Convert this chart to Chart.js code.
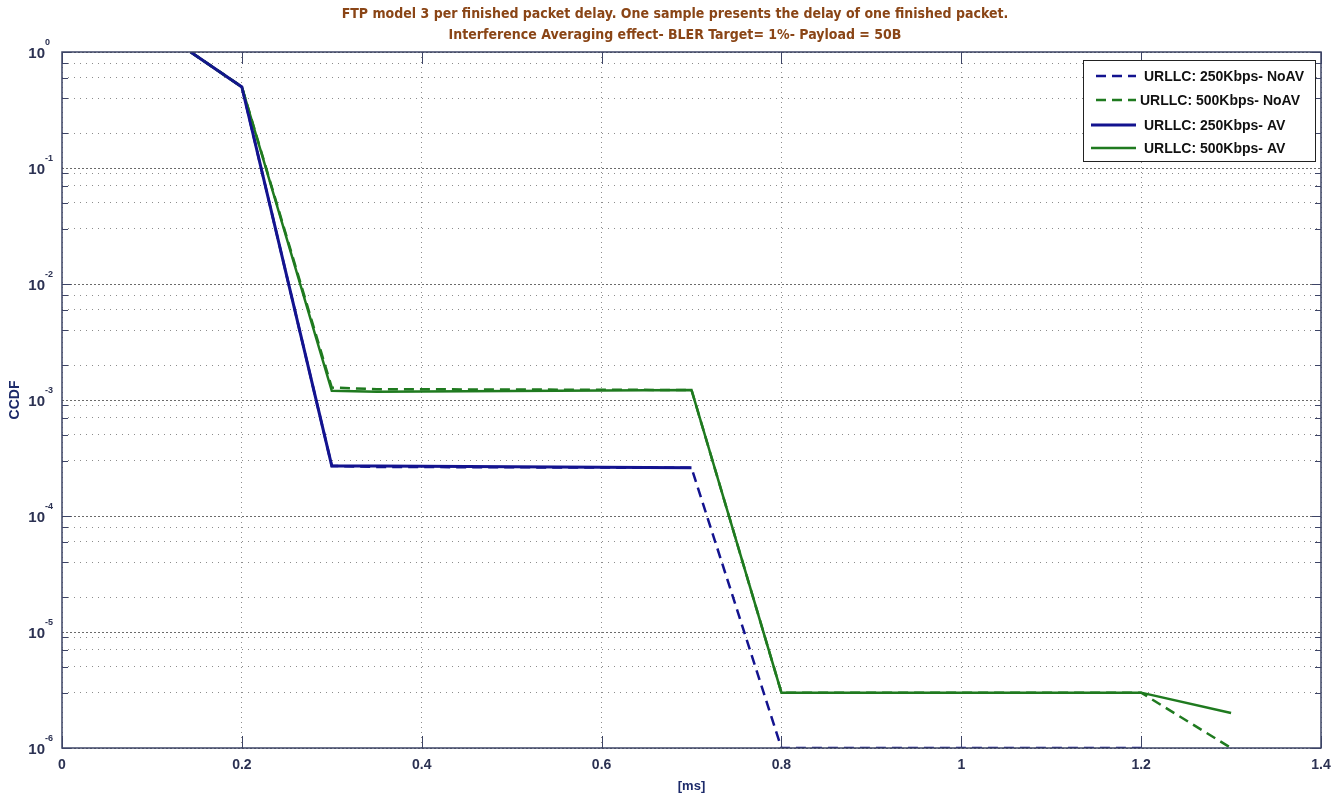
<!DOCTYPE html>
<html>
<head>
<meta charset="utf-8">
<script src="https://cdn.jsdelivr.net/npm/chart.js@4.4.0/dist/chart.umd.min.js"></script>
<style>
  html, body { margin: 0; padding: 0; background: #fff; }
  #wrap { width: 1341px; height: 794px; }
</style>
</head>
<body>
<div id="wrap"><canvas id="ccdfChart"></canvas></div>
<script>
// packet delay [ms] and CCDF per curve
const delayMs = [0.143, 0.2, 0.3, 0.35, 0.7, 0.8, 1.2, 1.3];
const noAv250 = [1, 0.5, 2.7e-4, 2.65e-4, 2.6e-4, 1e-6, 1e-6, null];
const noAv500 = [1, 0.5, 1.28e-3, 1.24e-3, 1.22e-3, 3e-6, 3e-6, 1e-6];
const av250 = [1, 0.5, 2.7e-4, 2.7e-4, 2.6e-4, null, null, null];
const av500 = [1, 0.5, 1.2e-3, 1.18e-3, 1.22e-3, 3e-6, 3e-6, 2e-6];
const seriesNames = ['URLLC: 250Kbps- NoAV', 'URLLC: 500Kbps- NoAV', 'URLLC: 250Kbps- AV', 'URLLC: 500Kbps- AV'];
const yDecades = [0, -1, -2, -3, -4, -5, -6];
const titleLines = ['FTP model 3 per finished packet delay. One sample presents the delay of one finished packet.',
                    'Interference Averaging effect- BLER Target= 1%- Payload = 50B'];

const BLUE = '#13138f';
const GREEN = '#1f7a1f';
const AXIS = '#3d4466';
const LABEL = '#2b3152';
const GRID = '#8c8c8c';
const FONT = '"Liberation Sans", Arial, sans-serif';

const pts = vals => delayMs.map((x, i) => ({x: x, y: vals[i]}));
const isMajor = v => Math.abs(Math.log10(v) - Math.round(Math.log10(v))) < 1e-9;

const frame = {
  id: 'frame',
  beforeDatasetsDraw(chart) {
    // decade grid lines: finer dashes than the minor dotted ones
    const {ctx, chartArea: a, scales: {y}} = chart;
    ctx.save();
    ctx.strokeStyle = '#6a6a6a';
    ctx.lineWidth = 1;
    ctx.setLineDash([2, 2]);
    ctx.beginPath();
    yDecades.forEach(e => {
      const py = Math.round(y.getPixelForValue(Math.pow(10, e))) + 0.5;
      ctx.moveTo(a.left, py); ctx.lineTo(a.right, py);
    });
    ctx.stroke();
    ctx.restore();
  },
  afterDraw(chart) {
    const {ctx, chartArea: a, scales: {x, y}} = chart;
    ctx.save();
    // box
    ctx.strokeStyle = AXIS;
    ctx.lineWidth = 1.5;
    ctx.strokeRect(a.left, a.top, a.right - a.left, a.bottom - a.top);
    // tick marks inside
    ctx.lineWidth = 1;
    ctx.beginPath();
    y.ticks.forEach(t => {
      const py = Math.round(y.getPixelForValue(t.value)) + 0.5;
      const len = isMajor(t.value) ? 9 : 6;
      ctx.moveTo(a.left, py); ctx.lineTo(a.left + len, py);
      ctx.moveTo(a.right, py); ctx.lineTo(a.right - len, py);
    });
    x.ticks.forEach(t => {
      const px = Math.round(x.getPixelForValue(t.value)) + 0.5;
      ctx.moveTo(px, a.top); ctx.lineTo(px, a.top + 12);
      ctx.moveTo(px, a.bottom); ctx.lineTo(px, a.bottom - 12);
    });
    ctx.stroke();

    // y labels 10^n
    ctx.fillStyle = LABEL;
    ctx.textBaseline = 'middle';
    yDecades.forEach(e => {
      const py = y.getPixelForValue(Math.pow(10, e));
      ctx.font = 'bold 15px ' + FONT;
      ctx.textAlign = 'right';
      ctx.fillText('10', 45, py + 2);
      ctx.font = 'bold 9px ' + FONT;
      ctx.textAlign = 'left';
      ctx.fillText(String(e), 45, py - 9);
    });

    // title
    ctx.fillStyle = '#8a4516';
    ctx.textAlign = 'center';
    ctx.font = 'bold 14px "Liberation Sans Narrow", "DejaVu Sans Condensed", sans-serif';
    ctx.fillText(titleLines[0], 675, 14);
    ctx.fillText(titleLines[1], 675, 35);

    // legend
    const lx = 1083, ly = 60, lw = 232, lh = 101;
    ctx.fillStyle = '#fff';
    ctx.fillRect(lx, ly, lw, lh);
    ctx.strokeStyle = '#222';
    ctx.lineWidth = 1;
    ctx.strokeRect(lx + 0.5, ly + 0.5, lw, lh);
    const rows = [76, 100, 125, 148];
    chart.data.datasets.forEach((ds, i) => {
      ctx.strokeStyle = ds.borderColor;
      ctx.lineWidth = ds.borderWidth;
      ctx.setLineDash(ds.borderDash || []);
      ctx.beginPath();
      ctx.moveTo(lx + (ds.borderDash ? 13 : 8), rows[i]);
      ctx.lineTo(lx + 53, rows[i]);
      ctx.stroke();
      ctx.setLineDash([]);
      ctx.fillStyle = '#111';
      ctx.textAlign = 'left';
      ctx.font = 'bold 14px ' + FONT;
      ctx.fillText(ds.label, i === 1 ? lx + 57 : lx + 61, rows[i] + 1);
    });
    ctx.restore();
  }
};

new Chart(document.getElementById('ccdfChart'), {
  type: 'line',
  data: {
    datasets: [
      {label: seriesNames[0], data: pts(noAv250), borderColor: BLUE, borderWidth: 2.5, borderDash: [10, 6]},
      {label: seriesNames[1], data: pts(noAv500), borderColor: GREEN, borderWidth: 2.5, borderDash: [10, 6]},
      {label: seriesNames[2], data: pts(av250), borderColor: BLUE, borderWidth: 3},
      {label: seriesNames[3], data: pts(av500), borderColor: GREEN, borderWidth: 2.5}
    ]
  },
  options: {
    responsive: true,
    maintainAspectRatio: false,
    animation: false,
    layout: {padding: {top: 52, right: 20, left: 0, bottom: 0}},
    elements: {point: {radius: 0}, line: {tension: 0}},
    plugins: {legend: {display: false}, tooltip: {enabled: false}},
    scales: {
      x: {
        type: 'linear', min: 0, max: 1.4,
        ticks: {stepSize: 0.2, color: LABEL, font: {family: FONT, size: 14, weight: 'bold'}, padding: 9,
                callback: v => String(Number(v.toFixed(1)))},
        grid: {color: GRID, drawTicks: false},
        border: {display: false, dash: [1, 4]},
        title: {display: true, text: '[ms]', color: '#1c2a6a', font: {family: FONT, size: 13, weight: 'bold'}, padding: {top: 2, bottom: 0}},
        afterFit: s => { s.height = 46; }
      },
      y: {
        type: 'logarithmic', min: 1e-6, max: 1,
        afterBuildTicks: s => {
          const t = [];
          for (let e = -6; e < 0; e++) for (let m = 1; m < 10; m++) t.push({value: m * Math.pow(10, e)});
          t.push({value: 1});
          s.ticks = t;
        },
        ticks: {callback: () => ''},
        grid: {color: c => (c.tick && isMajor(c.tick.value)) ? 'rgba(0,0,0,0)' : GRID, drawTicks: false},
        border: {display: false, dash: [1, 5]},
        title: {display: true, text: 'CCDF', color: '#1c2a6a', font: {family: FONT, size: 14, weight: 'bold'}, padding: {top: 7, bottom: 0}},
        afterFit: s => { s.width = 62; }
      }
    }
  },
  plugins: [frame]
});
</script>
</body>
</html>
